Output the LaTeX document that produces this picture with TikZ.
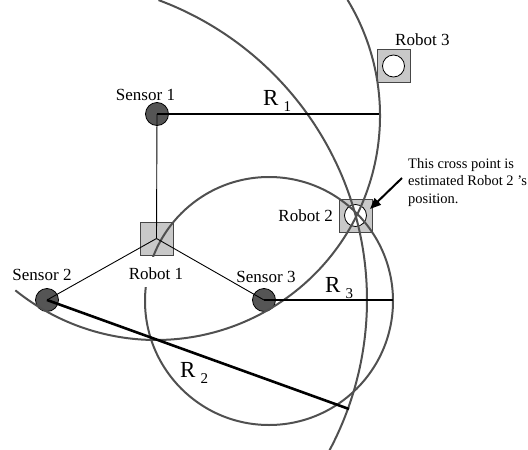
\documentclass[tikz,border=0pt]{standalone}
\usepackage{fontspec}
\setmainfont{Liberation Serif}
\usetikzlibrary{arrows.meta}
\definecolor{arccol}{RGB}{80,80,80}
\definecolor{sqfill}{RGB}{200,200,200}
\definecolor{sqdraw}{RGB}{70,70,70}
\definecolor{sensfill}{RGB}{85,85,85}
\newcommand\myRlab[1]{{\fontsize{23}{23}\selectfont R}\hspace{5pt}\raisebox{-6pt}{\fontsize{15}{15}\selectfont #1}}
\begin{document}
\begin{tikzpicture}[x=1pt,y=1pt,
  sensor/.style={circle,draw=black,line width=0.8pt,fill=sensfill,minimum size=23pt,inner sep=0},
  robot/.style={rectangle,draw=sqdraw,line width=1pt,fill=sqfill,minimum size=33pt,inner sep=0},
  innercirc/.style={circle,draw=black,line width=0.8pt,fill=white,minimum size=22pt,inner sep=0},
  lbl/.style={font=\fontsize{17}{20}\selectfont,inner sep=0},
  rlbl/.style={inner sep=0,anchor=base west},
  rline/.style={line width=2.6pt,black},
  thinline/.style={line width=0.9pt,black},
  rangearc/.style={line width=2pt,arccol},
  note/.style={font=\fontsize{14.5}{17.5}\selectfont,align=left,inner sep=0}
]
\useasboundingbox (0,0) rectangle (528,-450);
% robots
\node[robot] (r1) at (156.5,-238.5) {};
\node[robot] (r2) at (355.5,-215.5) {};
\node[innercirc] (r2c) at (r2) {};
\node[robot] (r3) at (393.5,-66) {};
\node[innercirc] (r3c) at (r3) {};
% sensors
\node[sensor] (s1) at (157,-114) {};
\node[sensor] (s2) at (47,-300) {};
\node[sensor] (s3) at (264,-300) {};
% range arcs
\coordinate (c1) at (156,-116);
\coordinate (c2) at (47,-300);
\coordinate (c3) at (269,-301);
\begin{scope}
\clip (0,0) rectangle (528,-450);
\draw[rangearc] (c1) ++(31.2:224) arc[start angle=31.2, end angle=-128.9, radius=224];
\draw[rangearc] (c2) ++(69.6:320) arc[start angle=69.6, end angle=-30, radius=320];
\draw[rangearc] (c3) circle[radius=124];
\end{scope}
% links robot 1 - sensors
\draw[thinline] (r1.center) -- (s1.center);
\draw[thinline] (r1.center) -- (s2.center);
\draw[thinline] (r1.center) -- (s3.center);
% range lines
\coordinate (e1) at (379,-114);
\coordinate (e2) at (349,-409);
\coordinate (e3) at (393,-300);
\draw[rline] (s1.center) -- (e1);
\draw[rline] (s2.center) -- (e2);
\draw[rline] (s3.center) -- (e3);
% labels
\node[lbl,anchor=base] (ls1) at (145.5,-100) {Sensor 1};
\node[lbl,anchor=base] (ls2) at (42,-280) {Sensor 2};
\node[lbl,anchor=base] (ls3) at (266,-282) {Sensor 3};
\node[lbl,anchor=base,fill=white,inner xsep=5pt,inner ysep=2pt,text height=20pt,text depth=6pt] (lr1) at (156,-279) {Robot 1};
\node[lbl,anchor=base east] (lr2) at (333,-221) {Robot 2};
\node[lbl,anchor=base west] (lr3) at (395,-45) {Robot 3};
\node[rlbl] (lR1) at (263,-105) {\myRlab{1}};
\node[rlbl] (lR2) at (180,-377) {\myRlab{2}};
\node[rlbl] (lR3) at (325,-292) {\myRlab{3}};
% annotation
\node[note,anchor=north west] (note) at (408,-158) {This cross point is\\estimated Robot 2 's\\position.};
\coordinate (notetail) at (402,-178);
\coordinate (tip) at (370,-209);
\draw[line width=2pt,-{Triangle[length=11pt,width=9pt]}] (notetail) -- (tip);
\end{tikzpicture}
\end{document}
